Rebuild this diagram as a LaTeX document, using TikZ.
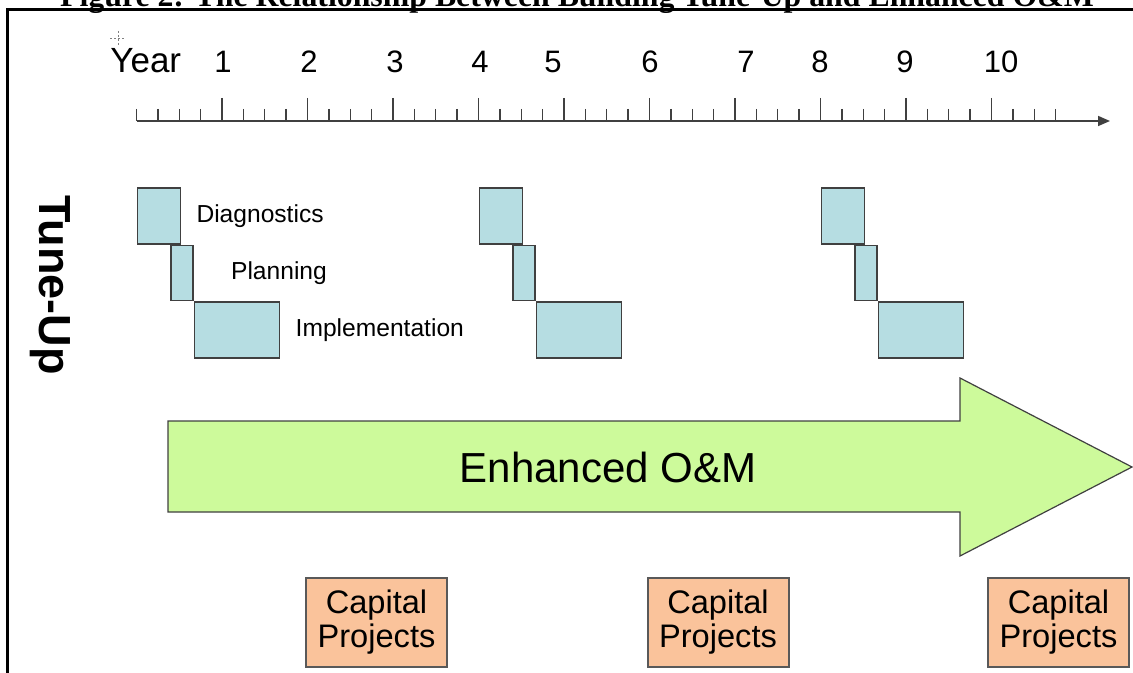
\documentclass[tikz,border=0pt]{standalone}
\usepackage{fontspec}
\setmainfont{Liberation Sans}
\newfontfamily\captionserif{Liberation Serif}
\usetikzlibrary{arrows.meta,positioning}
\definecolor{phaseFill}{RGB}{182,221,226}
\definecolor{omGreen}{RGB}{205,250,155}
\definecolor{capFill}{RGB}{250,195,155}
\definecolor{lineGray}{RGB}{64,64,64}

\begin{document}
\begin{tikzpicture}[
		x=0.5pt, y=-0.5pt,
		rulerTick/.style={draw=lineGray, line width=0.7pt},
		timeAxis/.style={draw=lineGray, line width=0.8pt, -{Triangle[length=6pt,width=5pt]}},
		yearNum/.style={font=\fontsize{15.5}{18}\selectfont, inner sep=0pt, anchor=base},
		phaseBox/.style={draw=lineGray, fill=phaseFill, line width=0.8pt, rectangle, inner sep=0pt, anchor=north west},
		phaseLabel/.style={font=\fontsize{12.3}{14}\selectfont, inner sep=0pt},
		omArrow/.style={draw=black!75, fill=omGreen, line width=0.6pt, line join=miter},
		capitalBox/.style={draw=black!65, fill=capFill, line width=1pt, minimum width=70.5pt, minimum height=44.5pt, align=center, inner sep=0pt, font=\fontsize{16.3}{17}\selectfont}]
	\useasboundingbox (0,0) rectangle (1133,673);
	\clip (0,0) rectangle (1133,673);

	\node[font=\captionserif\bfseries\fontsize{15.9}{18}\selectfont, anchor=base, inner sep=0pt] (figTitle) at (577,7) {Figure 2: The Relationship Between Building Tune-Up and Enhanced O\&M};
	\draw[line width=1.5pt] (1140,10) -- (7,10) -- (7,680);

	\draw[black!50, dash pattern=on 1pt off 1pt, line width=0.4pt] (118,31) -- (118,46) (110,38) -- (126,38);
	\node[yearNum, anchor=base west, font=\fontsize{17.5}{20}\selectfont] (yearLbl) at (110,72.5) {Year};
	\foreach \n/\x in {1/223, 2/309, 3/395, 4/480, 5/553, 6/650, 7/746, 8/820, 9/905, 10/1001}
		\node[yearNum] (yr\n) at (\x,72.5) {\n};

	\coordinate (axStart) at (136.5,121);
	\coordinate (axEnd) at (1110,121);
	\draw[timeAxis] (axStart) -- (axEnd);
	\foreach \i in {0,...,43}{
		\pgfmathsetmacro{\tx}{136.5+21.375*\i}
		\pgfmathtruncatemacro{\major}{(mod(\i,4)==0 && \i>0) ? 1 : 0}
		\ifnum\major=1
			\draw[rulerTick] (\tx,98) -- (\tx,121);
		\else
			\draw[rulerTick] (\tx,109) -- (\tx,121);
		\fi
	}

	\node[rotate=-90, font=\bfseries\fontsize{22.5}{25}\selectfont, inner sep=0pt] (tuneUp) at (50,285) {Tune-Up};

	\foreach \gx/\k in {136.5/1, 478.5/2, 820.5/3}{
		\node[phaseBox, minimum width=21.5pt, minimum height=28pt] (diag\k) at (\gx,187) {};
		\node[phaseBox, minimum width=11pt, minimum height=27.5pt] (plan\k) at ([xshift=-5.5pt]diag\k.south east) {};
		\node[phaseBox, minimum width=42.5pt, minimum height=28pt] (impl\k) at (plan\k.south east) {};
	}
	\node[phaseLabel, right=7.5pt of diag1] (diagText) {Diagnostics};
	\node[phaseLabel, right=18.5pt of plan1] (planText) {Planning};
	\node[phaseLabel, right=7.5pt of impl1] (implText) {Implementation};

	\draw[omArrow] (168,421) -- (960,421) -- (960,378) -- (1132,467) -- (960,556) -- (960,512) -- (168,512) -- cycle;
	\node[font=\fontsize{21}{24}\selectfont] (omText) at (608,467) {Enhanced O\&M};

	\foreach \cx/\k in {376.5/1, 718/2, 1058.5/3}
		\node[capitalBox] (capital\k) at (\cx,622.5) {Capital\\Projects};
\end{tikzpicture}
\end{document}
